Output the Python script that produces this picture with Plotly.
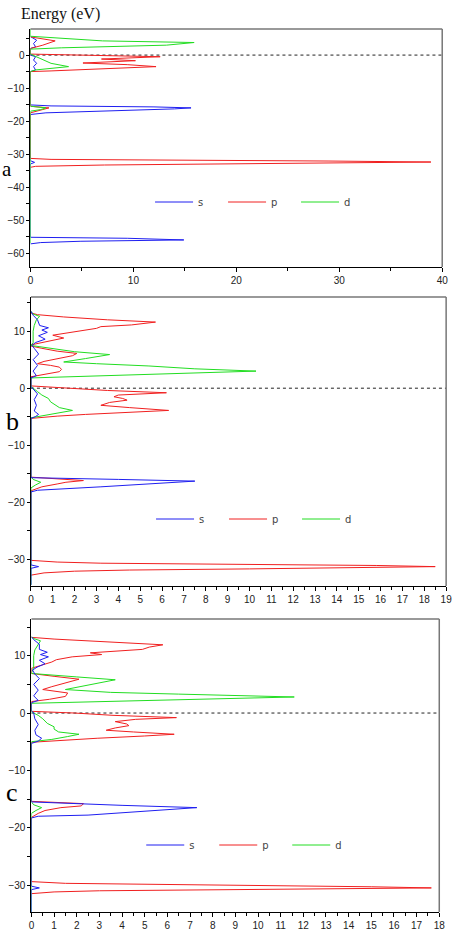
import plotly.graph_objects as go

W, H = 459, 936

# ---------------- Panel a ----------------
a_s_E = [-57.2, -56.8, -56.4, -56.0, -55.5, -55.2, -33.0, -32.5, -32.0, -18.0, -17.5, -17.2, -16.8, -16.3, -16.0, -15.7, -15.4, -15.1,
         -5.0, -4.5, -3.5, -2.5, -1.5, -0.5, 0.0, 2.0, 2.5, 3.5, 4.5, 5.2, 5.6]
a_s = [0, 1.0, 4.9, 14.9, 9.4, 0, 0, 0.4, 0, 0, 1.5, 5.0, 9.0, 14.0, 15.6, 12.0, 2.0, 0,
       0, 0.5, 0.3, 0.6, 0.3, 0.5, 0, 0, 0.5, 0.3, 0.6, 0.2, 0]
a_p_E = [-34.0, -33.7, -33.3, -33.0, -32.7, -32.4, -32.1, -31.9, -31.6, -31.3, -17.5, -16.5, -16.0, -15.5,
         -5.0, -4.8, -4.2, -3.5, -2.9, -2.4, -1.7, -1.2, -0.5, 0.0, 0.3, 2.0, 3.0, 4.3, 5.0, 5.5]
a_p = [0, 0.5, 7.2, 18.6, 28.8, 38.9, 29.0, 18.0, 2.0, 0, 0, 1.2, 1.8, 0,
       0, 2.0, 7.2, 12.2, 9.4, 5.1, 10.2, 6.9, 12.6, 2.5, 0, 0, 1.2, 2.4, 1.0, 0]
a_d_E = [-57.0, -17.0, -16.5, -16.0, -15.5, -5.0, -4.5, -3.5, -2.5, -1.3, -0.5, 0.0, 0.3, 1.8, 2.2, 3.0, 3.8, 4.3, 5.0, 5.3, 5.7, 8.0]
a_d = [0, 0, 1.0, 1.5, 0, 0, 0.5, 3.7, 2.0, 1.1, 0.6, 0.2, 0, 0, 3.0, 13.2, 15.9, 7.0, 3.0, 2.0, 0, 0]

# ---------------- Panel b ----------------
b_s_E = [-34.5, -31.6, -31.3, -31.0, -18.2, -17.9, -17.3, -16.7, -16.3, -16.0, -15.7,
         -5.3, -5.0, -4.6, -4.0, -3.0, -2.0, -1.0, 0.0, 0.3, 1.8, 2.2, 3.0, 4.0, 5.0, 6.0, 7.0, 7.5,
         8.0, 8.6, 9.2, 9.8, 10.2, 10.6, 11.0, 12.0, 12.8, 13.5]
b_s = [0, 0, 0.35, 0, 0, 0.3, 3.2, 5.7, 7.5, 4.0, 0,
       0, 0.2, 0.35, 0.15, 0.25, 0.15, 0.3, 0.1, 0, 0, 0.25, 0.1, 0.3, 0.1, 0.35, 0.15, 0.05,
       0.2, 0.65, 0.35, 0.75, 0.5, 0.8, 0.4, 0.3, 0.1, 0]
b_p_E = [-32.8, -32.4, -32.1, -31.9, -31.7, -31.5, -31.3, -31.1, -30.9, -30.7, -30.5, -30.2,
         -18.0, -17.3, -16.8, -16.5, -16.2, -15.9, -15.6,
         -5.3, -4.9, -4.6, -4.2, -3.9, -3.4, -3.0, -2.5, -2.1, -1.8, -1.5, -1.2, -0.8, -0.4, 0.0, 0.4,
         2.0, 2.4, 2.9, 3.3, 3.7, 4.0, 4.3, 4.7, 5.2, 5.7, 6.1, 6.5, 7.0, 7.4,
         7.6, 8.2, 8.8, 9.3, 9.8, 10.3, 10.5, 10.8, 11.1, 11.6, 12.0, 12.5, 12.9, 13.2]
b_p = [0, 0.6, 2.0, 4.5, 10.0, 15.6, 18.5, 15.8, 9.0, 3.2, 1.2, 0,
       0, 0.5, 1.2, 1.6, 2.4, 1.0, 0,
       0, 1.2, 2.5, 4.5, 6.3, 4.5, 3.2, 3.6, 4.4, 4.2, 3.8, 4.0, 6.2, 3.5, 1.9, 0,
       0, 0.6, 1.3, 1.4, 1.3, 0.9, 0.3, 0.6, 1.2, 1.9, 2.1, 1.2, 0.5, 0,
       0, 0.8, 1.5, 1.0, 1.8, 2.5, 3.0, 3.2, 4.6, 5.7, 3.5, 1.5, 0.3, 0]
b_d_E = [-34.5, -17.5, -17.0, -16.5, -16.0, -15.5, -5.2, -4.8, -4.4, -3.9, -3.4, -2.9, -2.4, -1.8, -1.2, -0.6, 0.0, 0.3,
         1.8, 2.1, 2.5, 3.0, 3.4, 3.9, 4.3, 4.6, 5.2, 5.9, 6.4, 7.0, 7.5, 8.0, 9.0, 10.0, 11.0, 12.0, 12.6, 13.0, 13.5]
b_d = [0, 0, 0.2, 0.45, 0.1, 0, 0, 0.6, 1.1, 1.9, 1.3, 1.1, 0.9, 0.8, 0.5, 0.3, 0.1, 0,
       0, 2.5, 6.5, 10.3, 7.5, 5.4, 3.0, 1.5, 2.5, 3.6, 2.0, 0.8, 0, 0.1, 0.1, 0.1, 0.15, 0.25, 0.4, 0.1, 0]

# ---------------- Panel c ----------------
c_s_E = [-34.7, -30.8, -30.5, -30.2, -18.3, -18.0, -17.8, -17.0, -16.5, -16.1, -15.5,
         -5.3, -4.9, -4.4, -3.8, -3.0, -2.0, -1.0, 0.0, 0.4, 1.8, 2.2, 3.0, 4.0, 5.0, 6.0, 6.8, 7.5,
         8.0, 8.6, 9.2, 9.8, 10.2, 10.6, 11.1, 12.0, 12.8, 13.3]
c_s = [0, 0, 0.35, 0, 0, 0.3, 2.5, 5.7, 7.3, 4.0, 0,
       0, 0.3, 0.45, 0.2, 0.15, 0.3, 0.15, 0.1, 0, 0, 0.3, 0.1, 0.3, 0.1, 0.35, 0.15, 0.05,
       0.25, 0.6, 0.35, 0.75, 0.4, 0.7, 0.35, 0.35, 0.1, 0]
c_p_E = [-31.5, -31.2, -31.0, -30.8, -30.6, -30.5, -30.3, -30.1, -29.9, -29.7, -29.4,
         -18.2, -17.5, -17.0, -16.5, -16.2, -15.8, -15.4,
         -5.1, -4.7, -4.4, -4.0, -3.7, -3.3, -3.0, -2.6, -2.2, -1.9, -1.5, -1.1, -0.8, -0.4, 0.0, 0.3,
         2.0, 2.4, 2.9, 3.5, 3.8, 4.1, 4.6, 5.2, 5.9, 6.4, 6.9,
         7.8, 8.3, 8.9, 9.3, 9.8, 10.2, 10.5, 11.1, 11.5, 11.9, 12.4, 12.9, 13.2]
c_p = [0, 1.0, 3.0, 8.0, 14.0, 17.65, 15.0, 10.0, 5.0, 1.5, 0,
       0, 0.3, 0.6, 1.3, 2.2, 2.3, 0,
       0, 1.5, 2.9, 5.0, 6.3, 4.5, 3.3, 3.7, 4.3, 4.2, 3.7, 4.6, 6.4, 3.6, 1.9, 0,
       0, 0.8, 1.5, 1.6, 1.0, 0.5, 0.9, 1.5, 2.1, 1.0, 0,
       0, 0.4, 0.9, 1.1, 1.8, 3.1, 2.6, 4.9, 5.2, 5.8, 3.2, 1.0, 0]
c_d_E = [-34.7, -17.5, -17.0, -16.5, -16.0, -15.5, -5.0, -4.6, -4.1, -3.7, -3.3, -2.8, -2.4, -1.8, -1.0, -0.4, 0.0, 0.3,
         1.7, 2.0, 2.3, 2.8, 3.3, 3.6, 4.1, 4.6, 5.3, 5.8, 6.3, 6.9, 8.0, 10.0, 11.0, 12.0, 12.6, 13.0, 13.3]
c_d = [0, 0, 0.2, 0.45, 0.1, 0, 0, 0.9, 1.6, 2.1, 1.2, 1.0, 1.0, 0.7, 0.5, 0.3, 0.1, 0,
       0, 3.0, 6.0, 11.6, 6.5, 3.5, 1.5, 2.2, 3.0, 3.7, 2.0, 0, 0.1, 0.1, 0.15, 0.3, 0.4, 0.1, 0]

orbitals = ["s", "p", "d"]
colors = {"s": "#1f1ff0", "p": "#f02020", "d": "#22dd22"}

# panel layout (pixel boxes) : left, right, top, bottom
panels = [
    dict(key="a", data={"s": (a_s_E, a_s), "p": (a_p_E, a_p), "d": (a_d_E, a_d)},
         order=["s", "p", "d"], box=(28, 448, 29, 267), xr=[0, 40], yr=[-64.2, 7.9],
         xd=10, xminor=5, ylab=202, legx=150),
    dict(key="b", data={"s": (b_s_E, b_s), "p": (b_p_E, b_p), "d": (b_d_E, b_d)},
         order=["p", "d", "s"], box=(28.5, 452, 297, 586), xr=[0, 19], yr=[-34.7, 16.0],
         xd=1, xminor=0.5, ylab=519, legx=151),
    dict(key="c", data={"s": (c_s_E, c_s), "p": (c_p_E, c_p), "d": (c_d_E, c_d)},
         order=["p", "d", "s"], box=(29, 445, 619, 912), xr=[0, 18], yr=[-34.7, 16.4],
         xd=1, xminor=0.5, ylab=845, legx=141),
]

fig = go.Figure()
shapes = []
layout = {}
tickfont = dict(family="Liberation Sans", size=10, color="#222")

for i, P in enumerate(panels):
    n = "" if i == 0 else str(i + 1)
    xa, ya = "x" + n, "y" + n
    leg = "legend" + n
    for orb in P["order"]:
        E, D = P["data"][orb]
        fig.add_trace(go.Scatter(
            x=D, y=E, mode="lines", name=orb, xaxis=xa, yaxis=ya,
            line=dict(color=colors[orb], width=1), legend=leg,
            legendrank=orbitals.index(orb) + 1, showlegend=True))
    l, r, t, b = P["box"]
    layout["xaxis" + n] = dict(
        domain=[l / W, r / W], range=P["xr"], anchor=ya, dtick=P["xd"], tick0=0,
        showline=True, linecolor="black", linewidth=1, ticks="outside", ticklen=4,
        tickcolor="black", showgrid=False, zeroline=False, tickfont=tickfont,
        minor=dict(dtick=P["xminor"], ticks="outside", ticklen=3, tickcolor="black"),
        layer="below traces", fixedrange=True)
    layout["yaxis" + n] = dict(
        domain=[1 - b / H, 1 - t / H], range=P["yr"], anchor=xa, dtick=10, tick0=0,
        showline=True, linecolor="black", linewidth=1, ticks="outside", ticklen=3,
        tickcolor="black", showgrid=False, zeroline=False, tickfont=tickfont,
        minor=dict(dtick=5, ticks="outside", ticklen=3, tickcolor="black"),
        layer="below traces", fixedrange=True)
    layout[leg] = dict(
        orientation="h", x=P["legx"] / W, y=1 - P["ylab"] / H, xanchor="left", yanchor="middle",
        xref="paper", yref="paper", bgcolor="rgba(0,0,0,0)", itemwidth=38,
        entrywidth=20, entrywidthmode="pixels",
        font=dict(family="DejaVu Sans", size=10, color="#444"), traceorder="normal", itemclick=False)
    # top & right frame
    shapes.append(dict(type="line", xref=xa + " domain", yref=ya + " domain", x0=0, x1=1, y0=1, y1=1,
                       line=dict(color="#777", width=1.5)))
    shapes.append(dict(type="line", xref=xa + " domain", yref=ya + " domain", x0=1, x1=1, y0=0, y1=1,
                       line=dict(color="#777", width=1.5)))
    # Fermi level
    shapes.append(dict(type="line", xref=xa + " domain", yref=ya, x0=0, x1=1, y0=0, y1=0,
                       line=dict(color="#222", width=1, dash="3px,3px"), layer="below"))

annotations = [
    dict(text="Energy (eV)", x=16 / W, y=1 - 14 / H, xref="paper", yref="paper", xanchor="left",
         yanchor="middle", showarrow=False, font=dict(family="Liberation Serif", size=16, color="#111")),
    dict(text="a", x=4.5 / W, y=1 - 169 / H, xref="paper", yref="paper", xanchor="center", yanchor="middle",
         showarrow=False, borderpad=0, font=dict(family="Liberation Serif", size=21, color="black")),
    dict(text="b", x=10 / W, y=1 - 422 / H, xref="paper", yref="paper", xanchor="center", yanchor="middle",
         showarrow=False, font=dict(family="Liberation Serif", size=26, color="black")),
    dict(text="c", x=9 / W, y=1 - 792 / H, xref="paper", yref="paper", xanchor="center", yanchor="middle",
         showarrow=False, font=dict(family="Liberation Serif", size=26, color="black")),
]

fig.update_layout(
    width=W, height=H, margin=dict(l=0, r=0, t=0, b=0),
    paper_bgcolor="white", plot_bgcolor="white",
    shapes=shapes, annotations=annotations, **layout)

fig.write_html("out.html", config={"displayModeBar": False})
